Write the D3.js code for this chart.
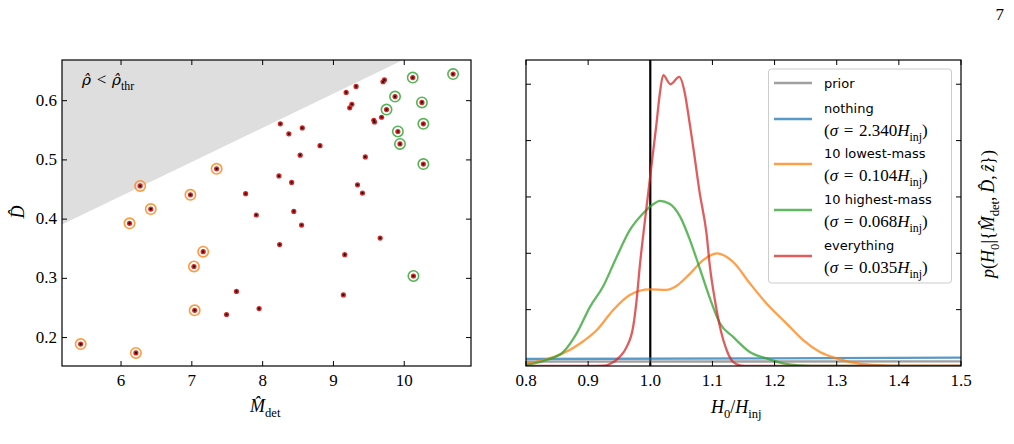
<!DOCTYPE html>
<html>
<head>
<meta charset="utf-8">
<script src="https://cdn.jsdelivr.net/npm/d3@7"></script>
<style>
body { margin: 0; background: #fff; }
svg { display: block; }
text { font-family: "Liberation Serif", serif; fill: #000; }
</style>
</head>
<body>
<svg id="fig" width="1014" height="444"></svg>
<script>
// ---- data ----
// left panel: [chirp mass, distance]
const lowestMass = [
  [5.43, 0.189], [6.21, 0.174], [6.12, 0.393], [6.27, 0.456], [6.42, 0.417],
  [6.98, 0.441], [7.35, 0.485], [7.16, 0.345], [7.03, 0.320], [7.04, 0.246]
];
const highestMass = [
  [10.69, 0.645], [10.12, 0.639], [9.87, 0.607], [10.25, 0.597], [9.75, 0.585],
  [10.27, 0.561], [9.91, 0.548], [9.94, 0.527], [10.27, 0.493], [10.13, 0.304]
];
const otherEvents = [
  [9.18, 0.614], [9.32, 0.624], [9.70, 0.632], [9.72, 0.635], [9.23, 0.588],
  [9.26, 0.594], [9.57, 0.567], [9.58, 0.564], [9.68, 0.572], [8.25, 0.561],
  [8.37, 0.544], [8.56, 0.554], [8.81, 0.524], [8.53, 0.508], [9.45, 0.505],
  [8.23, 0.473], [8.41, 0.462], [7.76, 0.443], [9.34, 0.458], [9.41, 0.444],
  [7.91, 0.407], [8.44, 0.413], [8.55, 0.390], [8.24, 0.357], [9.66, 0.368],
  [9.16, 0.340], [7.63, 0.278], [9.14, 0.272], [7.95, 0.249], [7.49, 0.239]
];
const thresholdLine = [[5.166, 0.391], [9.99, 0.669]];
const massTicks = [6, 7, 8, 9, 10];
const distTicks = [0.2, 0.3, 0.4, 0.5, 0.6];

// right panel: [H0/Hinj, density]
const priorCurve = [[0.8, 0.077], [1.5, 0.083]];
const nothingCurve = [[0.8, 0.124], [1.5, 0.147]];
const lowestCurve = [
  [0.8, 0.04], [0.833, 0.12], [0.86, 0.225], [0.887, 0.40], [0.914, 0.64],
  [0.940, 0.99], [0.967, 1.26], [0.999, 1.36], [1.026, 1.35], [1.042, 1.42],
  [1.064, 1.64], [1.085, 1.88], [1.107, 2.0], [1.133, 1.85], [1.160, 1.47],
  [1.187, 1.11], [1.219, 0.757], [1.246, 0.46], [1.273, 0.25], [1.300, 0.135],
  [1.326, 0.06], [1.358, 0.018], [1.39, 0.003], [1.42, 0], [1.5, 0]
];
const highestCurve = [
  [0.8, 0.018], [0.833, 0.106], [0.86, 0.25], [0.8815, 0.58], [0.903, 1.05],
  [0.924, 1.41], [0.946, 1.94], [0.967, 2.41], [0.9886, 2.71], [1.0047, 2.87],
  [1.015, 2.93], [1.031, 2.88], [1.048, 2.65], [1.064, 2.23], [1.080, 1.72],
  [1.096, 1.2], [1.112, 0.76], [1.133, 0.52], [1.160, 0.25], [1.187, 0.135],
  [1.214, 0.046], [1.24, 0.01], [1.28, 0], [1.5, 0]
];
const everythingCurve = [
  [0.8, 0], [0.90, 0], [0.925, 0.005], [0.935, 0.035], [0.951, 0.165],
  [0.962, 0.34], [0.9725, 0.70], [0.978, 1.17], [0.983, 1.76], [0.990, 2.45],
  [0.997, 3.1], [1.004, 3.75], [1.010, 4.3], [1.0154, 4.84], [1.0208, 5.16],
  [1.0326, 5.0], [1.0465, 5.13], [1.0556, 4.84], [1.061, 4.48], [1.069, 3.89],
  [1.0797, 3.06], [1.0905, 2.35], [1.096, 1.76], [1.104, 1.17], [1.112, 0.70],
  [1.123, 0.28], [1.133, 0.076], [1.146, 0.008], [1.16, 0], [1.5, 0]
];
const ratioTicks = [0.8, 0.9, 1.0, 1.1, 1.2, 1.3, 1.4, 1.5];
const densityTicks = [1, 2, 3, 4, 5];
const legendNames = ["prior", "nothing", "10 lowest-mass", "10 highest-mass", "everything"];
const legendSigmas = [null, "2.340", "0.104", "0.068", "0.035"];
const lineColors = ["#808080", "#1f77b4", "#ff7f0e", "#2ca02c", "#d62728"];

// ---- helpers ----
const svg = d3.select("#fig");
const TICK = 5;
const SP = "\u2004"; // a bit wider than a normal space, like math spacing

// parts: [text, kind]; kind: r roman, i italic, d italic in DejaVu (for hatted greek), sub subscript
const addMath = (txt, parts, size) => {
  let shift = 0;
  parts.forEach(([s, kind]) => {
    const sub = kind === "sub";
    const target = sub ? size * 0.28 : 0;
    const ts = txt.append("tspan").text(s)
      .attr("dy", target - shift)
      .attr("font-size", sub ? size * 0.7 : size)
      .attr("font-style", kind === "i" || kind === "d" ? "italic" : "normal");
    if (kind === "d") ts.style("font-family", "DejaVu Serif, serif").attr("font-size", size * 0.9);
    shift = target;
  });
  return txt;
};

const drawFrame = (x, y, xTicks, yTicks, showYLabels, fmtX) => {
  const [x0, x1] = x.range(), [y0, y1] = y.range();
  const g = svg.append("g");
  g.selectAll(".xt").data(xTicks).join("line")
    .attr("x1", d => x(d)).attr("x2", d => x(d))
    .attr("y1", y0).attr("y2", y0 - TICK).attr("stroke", "#000");
  g.selectAll(".xtt").data(xTicks).join("line")
    .attr("x1", d => x(d)).attr("x2", d => x(d))
    .attr("y1", y1).attr("y2", y1 + TICK).attr("stroke", "#000");
  g.selectAll(".yt").data(yTicks).join("line")
    .attr("x1", x0).attr("x2", x0 + TICK)
    .attr("y1", d => y(d)).attr("y2", d => y(d)).attr("stroke", "#000");
  g.selectAll(".ytr").data(yTicks).join("line")
    .attr("x1", x1).attr("x2", x1 - TICK)
    .attr("y1", d => y(d)).attr("y2", d => y(d)).attr("stroke", "#000");
  g.append("rect").attr("x", x0).attr("y", y1)
    .attr("width", x1 - x0).attr("height", y0 - y1)
    .attr("fill", "none").attr("stroke", "#000").attr("stroke-width", 1.2);
  g.selectAll(".xl").data(xTicks).join("text")
    .attr("x", d => x(d)).attr("y", y0 + 20)
    .attr("text-anchor", "middle").attr("font-size", 17)
    .text(fmtX);
  if (showYLabels) {
    g.selectAll(".yl").data(yTicks).join("text")
      .attr("x", x0 - 5).attr("y", d => y(d) + 5)
      .attr("text-anchor", "end").attr("font-size", 17)
      .text(d3.format(".1f"));
  }
};

// ---- left panel ----
const xM = d3.scaleLinear().domain([5.166, 10.943]).range([62, 471]);
const yD = d3.scaleLinear().domain([0.152, 0.6687]).range([366, 60]);

svg.append("path")
  .attr("d", d3.line()([
    [xM(thresholdLine[0][0]), yD(thresholdLine[0][1])],
    [xM(thresholdLine[1][0]), yD(thresholdLine[1][1])],
    [xM.range()[0], yD.range()[1]]
  ]) + "Z")
  .attr("fill", "#dedede");

addMath(svg.append("text").attr("x", 82).attr("y", 85),
  [["ρ\u0302", "d"], [SP + "<" + SP, "r"], ["ρ\u0302", "d"], ["thr", "sub"]], 17);

const allEvents = lowestMass.concat(highestMass, otherEvents);
svg.append("g").selectAll("circle").data(lowestMass).join("circle")
  .attr("cx", d => xM(d[0])).attr("cy", d => yD(d[1])).attr("r", 5.2)
  .attr("fill", "none").attr("stroke", "#ff7f0e").attr("stroke-opacity", 0.8)
  .attr("stroke-width", 1.6);
svg.append("g").selectAll("circle").data(highestMass).join("circle")
  .attr("cx", d => xM(d[0])).attr("cy", d => yD(d[1])).attr("r", 5.2)
  .attr("fill", "none").attr("stroke", "#2ca02c").attr("stroke-opacity", 0.8)
  .attr("stroke-width", 1.6);
svg.append("g").selectAll("circle").data(allEvents).join("circle")
  .attr("cx", d => xM(d[0])).attr("cy", d => yD(d[1])).attr("r", 2.6)
  .attr("fill", "#d62728");
svg.append("g").selectAll("circle").data(allEvents).join("circle")
  .attr("cx", d => xM(d[0])).attr("cy", d => yD(d[1])).attr("r", 1.1)
  .attr("fill", "#000");

drawFrame(xM, yD, massTicks, distTicks, true, d3.format("d"));

addMath(svg.append("text").attr("x", 250).attr("y", 412),
  [["M\u0302", "i"], ["det", "sub"]], 18);
addMath(svg.append("text").attr("transform", "translate(24,212) rotate(-90)")
  .attr("text-anchor", "middle"), [["D\u0302", "i"]], 18);

// ---- right panel ----
const xH = d3.scaleLinear().domain([0.8, 1.5]).range([526, 961]);
const yP = d3.scaleLinear().domain([0, 5.43]).range([366, 60]);

svg.append("clipPath").attr("id", "clipR").append("rect")
  .attr("x", 526).attr("y", 60).attr("width", 435).attr("height", 306);

const line = d3.line().x(d => xH(d[0])).y(d => yP(d[1])).curve(d3.curveMonotoneX);
const curves = [priorCurve, nothingCurve, lowestCurve, highestCurve, everythingCurve];

const plotG = svg.append("g").attr("clip-path", "url(#clipR)");
plotG.append("line")
  .attr("x1", xH(1)).attr("x2", xH(1)).attr("y1", 60).attr("y2", 366)
  .attr("stroke", "#000").attr("stroke-width", 2.2);
plotG.selectAll("path").data(curves).join("path")
  .attr("d", line).attr("fill", "none")
  .attr("stroke", (d, i) => lineColors[i]).attr("stroke-opacity", 0.75)
  .attr("stroke-width", 2.3);

drawFrame(xH, yP, ratioTicks, densityTicks, false, d3.format(".1f"));

addMath(svg.append("text").attr("x", 711).attr("y", 413),
  [["H", "i"], ["0", "sub"], ["/", "r"], ["H", "i"], ["inj", "sub"]], 18);

addMath(svg.append("text").attr("transform", "translate(994,214) rotate(-90)")
  .attr("text-anchor", "middle"),
  [["p", "i"], ["(", "r"], ["H", "i"], ["0", "sub"], ["|{", "r"], ["M\u0302", "i"], ["det", "sub"],
   [",\u2009", "r"], ["D\u0302", "i"], [",\u2009", "r"], ["z\u0302", "i"], ["})", "r"]], 18);

// legend
const leg = svg.append("g");
leg.append("rect").attr("x", 768.5).attr("y", 69).attr("width", 183).attr("height", 214)
  .attr("rx", 3).attr("fill", "#fff").attr("fill-opacity", 0.8)
  .attr("stroke", "#cccccc").attr("stroke-width", 1);
const rowY = [83, 119, 164, 210, 256];
legendNames.forEach((name, i) => {
  leg.append("line").attr("x1", 774).attr("x2", 812)
    .attr("y1", rowY[i]).attr("y2", rowY[i])
    .attr("stroke", lineColors[i]).attr("stroke-opacity", 0.75).attr("stroke-width", 2.3);
  const sig = legendSigmas[i];
  const nameY = sig ? rowY[i] - 6 : rowY[i] + 5;
  leg.append("text").attr("x", 824).attr("y", nameY)
    .style("font-family", "DejaVu Sans, sans-serif").attr("font-size", 13).text(name);
  if (sig) {
    addMath(leg.append("text").attr("x", 824).attr("y", rowY[i] + 17),
      [["(", "r"], ["σ", "i"], [SP + "=" + SP + sig, "r"], ["H", "i"], ["inj", "sub"], [")", "r"]], 17);
  }
});

// page number
svg.append("text").attr("x", 1004).attr("y", 20).attr("text-anchor", "end")
  .attr("font-size", 17).text("7");
</script>
</body>
</html>
